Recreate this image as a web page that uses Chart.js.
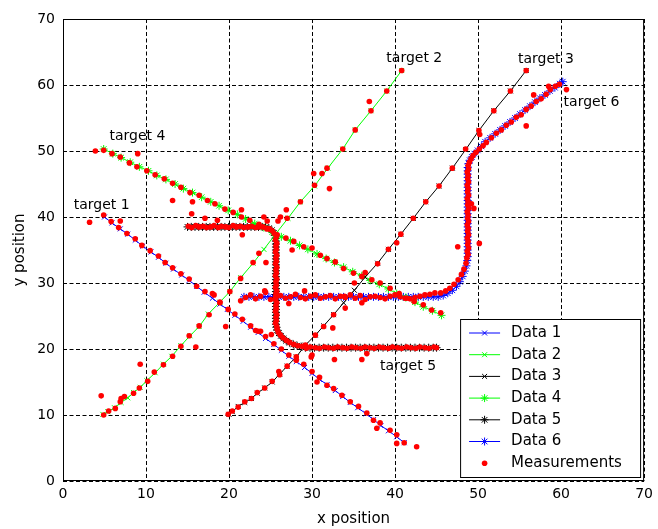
<!DOCTYPE html>
<html>
<head>
<meta charset="utf-8">
<title>Tracks</title>
<script src="https://cdn.jsdelivr.net/npm/chart.js@4.4.1/dist/chart.umd.min.js"></script>
<style>
html,body{margin:0;padding:0;background:#fff;}
#wrap{width:658px;height:529px;}
</style>
</head>
<body>
<div id="wrap"><canvas id="grafico" width="658" height="529"></canvas></div>
<script>
// tracks (true positions)
const track1 = [[5.0,40.0],[5.9,39.1],[6.9,38.2],[7.8,37.4],[8.7,36.5],[9.6,35.6],[10.6,34.7],[11.5,33.9],[12.4,33.0],[13.3,32.1],[14.3,31.2],[15.2,30.4],[16.1,29.5],[17.0,28.6],[18.0,27.7],[18.9,26.8],[19.8,26.0],[20.7,25.1],[21.7,24.2],[22.6,23.3],[23.5,22.5],[24.4,21.6],[25.4,20.7],[26.3,19.8],[27.2,18.9],[28.1,18.1],[29.1,17.2],[30.0,16.3],[30.9,15.4],[31.8,14.6],[32.8,13.7],[33.7,12.8],[34.6,11.9],[35.5,11.1],[36.5,10.2],[37.4,9.3],[38.3,8.4],[39.2,7.6],[40.2,6.7],[41.1,5.8]];
const track2 = [[4.8,10.1],[5.4,10.5],[6.2,11.1],[7.0,11.9],[7.8,12.6],[8.5,13.4],[9.3,14.2],[10.1,15.2],[11.1,16.4],[12.1,17.7],[13.1,18.9],[14.2,20.5],[15.3,22.0],[16.4,23.4],[17.5,25.3],[18.9,27.1],[20.1,28.7],[21.4,30.8],[22.9,33.0],[24.2,35.1],[25.6,37.4],[27.1,39.8],[28.6,42.3],[30.3,44.7],[31.9,47.4],[33.7,50.3],[35.2,53.2],[37.1,56.1],[39.0,59.1],[40.8,62.2]];
const track3 = [[20.0,10.1],[20.4,10.5],[21.1,11.3],[21.9,11.9],[22.7,12.5],[23.4,13.3],[24.3,14.1],[25.2,15.0],[26.1,16.2],[27.0,17.4],[28.1,18.8],[29.2,20.6],[30.4,22.1],[31.4,23.5],[32.6,25.2],[33.8,27.0],[35.1,28.9],[36.4,30.9],[37.9,33.0],[39.2,35.1],[40.7,37.4],[42.2,39.8],[43.7,42.3],[45.3,44.7],[46.9,47.4],[48.5,50.2],[50.1,53.1],[51.9,56.1],[53.9,59.1],[55.8,62.2]];
const track4 = [[4.9,50.3],[6.0,49.6],[7.0,49.0],[8.1,48.3],[9.2,47.6],[10.3,47.0],[11.3,46.3],[12.4,45.7],[13.5,45.0],[14.5,44.3],[15.6,43.7],[16.7,43.0],[17.8,42.3],[18.8,41.7],[19.9,41.0],[21.0,40.4],[22.0,39.7],[23.1,39.0],[24.2,38.4],[25.2,37.7],[26.3,37.0],[27.4,36.4],[28.5,35.7],[29.5,35.1],[30.6,34.4],[31.7,33.7],[32.7,33.1],[33.8,32.4],[34.9,31.7],[36.0,31.1],[37.0,30.4],[38.1,29.8],[39.2,29.1],[40.2,28.4],[41.3,27.8],[42.4,27.1],[43.4,26.4],[44.5,25.8],[45.6,25.1]];
const track5 = [[15.0,38.5],[15.45,38.5],[15.9,38.5],[16.35,38.5],[16.8,38.5],[17.25,38.5],[17.7,38.5],[18.15,38.5],[18.6,38.5],[19.05,38.5],[19.5,38.5],[19.95,38.5],[20.4,38.5],[20.85,38.5],[21.3,38.5],[21.75,38.5],[22.2,38.5],[22.65,38.5],[23.1,38.5],[23.55,38.5],[24.0,38.5],
  [24.4,38.45],[24.8,38.3],[25.15,38.0],[25.4,37.6],[25.55,37.2],[25.62,36.8],
  [25.65,36.35],[25.65,35.9],[25.65,35.45],[25.65,35.0],[25.65,34.55],[25.65,34.1],[25.65,33.65],[25.65,33.2],[25.65,32.75],[25.65,32.3],[25.65,31.85],[25.65,31.4],[25.65,30.95],[25.65,30.5],[25.65,30.05],[25.65,29.6],[25.65,29.15],[25.65,28.7],[25.65,28.25],[25.65,27.8],[25.65,27.35],[25.65,26.9],[25.65,26.45],[25.65,26.0],[25.65,25.55],[25.65,25.1],[25.65,24.65],[25.65,24.2],[25.65,23.75],
  [25.7,23.3],[25.8,22.85],[26.0,22.4],[26.25,22.0],[26.55,21.6],[26.9,21.25],[27.3,20.95],[27.75,20.7],[28.2,20.5],[28.7,20.35],
  [29.2,20.2],[29.75,20.2],[30.3,20.2],[30.85,20.2],[31.4,20.2],[31.95,20.2],[32.5,20.2],[33.05,20.2],[33.6,20.2],[34.15,20.2],[34.7,20.2],[35.25,20.2],[35.8,20.2],[36.35,20.2],[36.9,20.2],[37.45,20.2],[38.0,20.2],[38.55,20.2],[39.1,20.2],[39.65,20.2],[40.2,20.2],[40.75,20.2],[41.3,20.2],[41.85,20.2],[42.4,20.2],[42.95,20.2],[43.5,20.2],[44.05,20.2],[44.6,20.2],[45.0,20.2]];
const track6 = [[21.8,27.9],[22.4,27.9],[23.0,27.9],[23.6,27.9],[24.2,27.9],[24.8,27.9],[25.4,27.9],[26.0,27.9],[26.6,27.9],[27.2,27.9],[27.8,27.9],[28.4,27.9],[29.0,27.9],[29.6,27.9],[30.2,27.9],[30.8,27.9],[31.4,27.9],[32.0,27.9],[32.6,27.9],[33.2,27.9],[33.8,27.9],[34.4,27.9],[35.0,27.9],[35.6,27.9],[36.2,27.9],[36.8,27.9],[37.4,27.9],[38.0,27.9],[38.6,27.9],[39.2,27.9],[39.8,27.9],[40.4,27.9],[41.0,27.9],[41.6,27.9],[42.2,27.9],[42.8,27.9],[43.4,27.9],[44.0,27.9],[44.6,27.9],[45.2,27.9],
  [45.8,28.1],[46.35,28.45],[46.9,28.9],[47.4,29.5],[47.8,30.2],[48.15,31.0],[48.4,31.8],[48.6,32.6],[48.7,33.4],
  [48.75,34.0],[48.75,34.5],[48.75,35.0],[48.75,35.5],[48.75,36.0],[48.75,36.5],[48.75,37.0],[48.75,37.5],[48.75,38.0],[48.75,38.5],[48.75,39.0],[48.75,39.5],[48.75,40.0],[48.75,40.5],[48.75,41.0],[48.75,41.5],[48.75,42.0],[48.75,42.5],[48.75,43.0],[48.75,43.5],[48.75,44.0],[48.75,44.5],[48.75,45.0],[48.75,45.5],[48.75,46.0],[48.75,46.5],[48.75,47.0],[48.75,47.5],
  [48.85,48.1],[49.0,48.6],[49.25,49.1],[49.55,49.6],[49.95,50.1],[50.4,50.7],[50.85,51.4],
  [51.45,52.0],[52.05,52.6],[52.65,53.2],[53.25,53.8],[53.85,54.4],[54.45,55.0],[55.05,55.6],[55.65,56.2],[56.25,56.8],[56.85,57.4],[57.45,58.0],[58.05,58.5],[58.65,59.1],[59.25,59.6],[59.85,60.2],[60.2,60.5]];

// measurements (red dots)
const meas1 = [[4.9,40.3],[5.8,39.3],[6.7,38.4],[7.7,37.5],[8.7,36.7],[9.5,35.7],[10.5,34.9],[11.5,34.1],[12.3,33.1],[13.2,32.3],[14.2,31.4],[15.2,30.6],[16.1,29.5],[17.1,28.7],[18.0,28.4],[18.2,28.2],[18.9,27.1],[19.9,26.0],[20.7,25.3],[21.6,24.5],[22.6,23.5],[23.2,22.8],[23.5,22.7],[23.8,22.7],[24.4,21.9],[25.4,20.8],[26.3,20.0],[27.2,19.1],[28.1,18.3],[29.0,17.7],[30.0,16.6],[30.9,15.7],[31.8,14.5],[32.6,14.0],[33.6,13.0],[34.6,12.0],[35.6,11.3],[36.6,10.3],[37.4,9.2],[38.2,8.8],[39.4,7.7],[40.2,7.0],[41.1,5.8]];
const meas2 = [[4.9,10.0],[5.5,10.6],[6.3,11.0],[6.9,12.0],[7.0,12.5],[7.4,12.8],[8.5,13.3],[9.2,14.1],[10.2,15.1],[11.0,16.5],[12.1,17.6],[13.2,18.9],[14.2,20.4],[15.2,22.0],[16.4,23.5],[17.6,25.2],[18.9,27.0],[20.1,28.7],[21.4,30.7],[22.9,33.1],[23.6,34.5],[27.0,39.8],[28.6,42.3],[30.3,44.8],[31.8,47.4],[33.7,50.3],[35.2,53.2],[37.1,56.1],[39.0,59.1],[40.8,62.2]];
const meas3 = [[19.9,10.1],[20.4,10.6],[21.1,11.2],[21.9,12.0],[22.7,12.5],[23.4,13.4],[24.3,14.1],[25.2,15.1],[26.0,16.6],[26.1,16.1],[27.0,17.4],[28.1,18.8],[29.2,20.6],[30.4,22.1],[31.4,23.4],[32.6,25.2],[33.9,28.0],[35.1,30.0],[36.4,31.6],[37.9,32.9],[39.2,35.1],[40.2,36.1],[40.7,37.4],[42.2,39.8],[43.7,42.3],[45.3,44.7],[46.9,47.4],[48.5,50.3],[50.1,53.1],[50.2,52.5],[51.9,56.1],[53.9,59.1],[55.8,62.2]];
const meas4 = [[4.9,50.1],[5.9,49.6],[6.9,49.1],[8.0,48.2],[8.9,47.6],[10.1,47.0],[11.1,46.4],[12.2,45.8],[13.2,45.1],[14.2,44.5],[15.3,43.7],[16.4,43.3],[17.4,42.5],[18.3,42.0],[19.5,41.2],[20.5,40.7],[21.5,40.0],[22.5,39.5],[23.6,38.9],[24.6,38.2],[25.8,37.3],[26.85,36.8],[27.8,36.3],[29.0,35.5],[30.0,35.3],[31.0,34.2],[31.8,33.7],[32.8,33.2],[33.8,32.2],[35.0,31.5],[36.0,31.0],[37.2,30.5],[38.2,30.0],[39.4,29.2],[40.5,28.4],[41.4,27.7],[42.3,27.2],[43.4,26.7],[44.4,25.9],[45.5,25.5]];
const meas5 = [[15.1,38.6],[15.5,38.4],[16.0,38.7],[16.4,38.5],[16.9,38.6],[17.3,38.4],[17.8,38.5],[18.2,38.7],[18.7,38.4],[19.1,38.6],[19.6,38.5],[20.0,38.4],[20.5,38.7],[20.9,38.5],[21.4,38.6],[21.8,38.4],[22.3,38.5],[22.7,38.6],[23.2,38.4],[23.6,38.5],[24.1,38.5],[24.5,38.3],[24.9,38.2],[25.2,37.9],[25.45,37.5],
  [25.7,37.0],[25.6,36.5],[25.75,36.0],[25.65,35.6],[25.7,35.1],[25.6,34.7],[25.75,34.2],[25.65,33.8],[25.7,33.3],[25.6,32.9],[25.75,32.4],[25.65,32.0],[25.7,31.5],[25.6,31.1],[25.75,30.6],[25.65,30.2],[25.7,29.7],[25.6,29.3],[25.75,28.8],[25.65,28.4],[25.7,27.9],[25.6,27.5],[25.75,27.0],[25.65,26.6],[25.7,26.1],[25.6,25.7],[25.75,25.2],[25.65,24.8],[25.7,24.3],[25.6,23.9],[25.75,23.4],
  [25.8,23.0],[25.95,22.5],[26.2,22.1],[26.5,21.7],[26.9,21.3],[27.3,21.0],[27.8,20.7],[28.3,20.5],[28.8,20.4],[25.1,22.2],
  [29.3,20.1],[29.8,20.3],[30.4,20.2],[30.9,20.1],[31.5,20.3],[32.0,20.2],[32.6,20.1],[33.1,20.3],[33.7,20.2],[34.2,20.1],[34.8,20.3],[35.3,20.2],[35.9,20.1],[36.4,20.3],[37.0,20.2],[37.5,20.1],[38.1,20.3],[38.6,20.2],[39.2,20.1],[39.7,20.3],[40.3,20.2],[40.8,20.1],[41.4,20.3],[41.9,20.2],[42.5,20.1],[43.0,20.3],[43.6,20.2],[44.1,20.1],[44.7,20.3],[45.0,20.2]];
const meas6 = [[21.4,27.3],[22.0,27.8],[22.6,28.2],[23.2,27.6],[23.8,28.0],[24.4,28.6],[25.0,27.5],[25.6,27.9],[26.2,28.1],[26.8,27.7],[27.4,27.9],[28.0,28.3],[28.6,27.8],[29.2,27.6],[29.8,28.0],[30.4,28.2],[31.0,27.7],[31.6,27.9],[32.2,28.1],[32.8,27.6],[33.4,28.0],[34.0,27.8],[34.6,28.2],[35.2,27.7],[35.8,28.1],[36.4,27.5],[37.0,27.9],[37.6,28.0],[38.2,27.8],[38.8,27.6],[39.4,28.0],[40.0,28.2],[40.6,27.9],[41.2,27.7],[41.8,27.6],[42.4,27.8],[43.0,28.0],[43.6,28.2],[44.2,28.3],[44.8,28.5],
  [45.5,28.5],[46.1,28.8],[46.6,29.2],[47.1,29.8],[47.6,30.5],[48.0,31.3],[48.3,32.1],[48.55,33.0],[48.65,33.8],
  [48.8,34.3],[48.7,34.8],[48.85,35.3],[48.75,35.8],[48.8,36.3],[48.7,36.8],[48.85,37.3],[48.75,37.8],[48.8,38.3],[48.7,38.8],[48.85,39.3],[48.75,39.8],[48.8,40.3],[48.7,40.8],[48.85,41.3],[48.75,41.8],[48.8,42.3],[48.7,42.8],[48.85,43.3],[48.75,43.8],[48.8,44.3],[48.7,44.8],[48.85,45.3],[48.75,45.8],[48.8,46.3],[48.7,46.8],[48.85,47.3],[48.8,47.8],
  [48.95,48.3],[49.15,48.8],[49.4,49.3],[49.75,49.8],[50.15,50.3],[50.6,50.8],[51.0,51.3],
  [51.6,52.0],[52.2,52.7],[52.8,53.2],[53.4,53.9],[54.0,54.4],[54.6,55.1],[55.2,55.5],[55.8,56.3],[56.4,56.8],[57.0,57.5],[57.6,57.9],[58.2,58.6],[58.7,59.3],[59.3,59.8],[59.8,60.1],[58.5,59.8]];
const clutter = [[3.9,50.0],[9.0,49.6],[3.2,39.2],[6.9,39.4],[13.2,42.5],[15.6,42.3],[15.5,40.5],[17.1,39.8],[18.6,39.5],[21.5,41.1],[21.6,37.3],[24.2,40.0],[24.6,39.4],[25.9,39.4],[26.2,40.0],[26.9,41.1],[30.2,46.6],[31.2,46.6],[32.1,44.3],[36.9,57.5],[27.6,35.0],[24.45,33.1],[29.1,28.8],[24.3,28.8],[19.6,23.4],[16.0,20.3],[4.6,12.9],[9.3,17.7],[27.2,26.9],[32.5,23.2],[34.0,26.2],[36.0,27.0],[40.2,5.7],[42.6,5.2],[37.8,8.0],[30.6,15.0],[30.0,19.1],[29.9,18.8],[32.7,18.4],[36.0,18.4],[36.6,19.3],[47.55,35.5],[50.15,36.0],[49.2,42.0],[49.5,41.3],[55.8,53.8],[56.7,58.5],[60.65,59.3]];

// axis ticks and text labels
const xTicks = [0,10,20,30,40,50,60,70];
const yTicks = [0,10,20,30,40,50,60,70];
const targetNames = ['target 1','target 2','target 3','target 4','target 5','target 6'];
const targetX = [1.3, 38.95, 54.8, 5.6, 38.2, 60.3];
const targetY = [41.8, 64.0, 63.9, 52.2, 17.4, 57.3];
const legendNames = ['Data 1','Data 2','Data 3','Data 4','Data 5','Data 6','Measurements'];

const pts = a => a.map(p => ({x:p[0], y:p[1]}));
const FONTE = "'DejaVu Sans', sans-serif";
Chart.defaults.font.family = FONTE;
Chart.defaults.color = '#000';

function trilha(label, arr, cor, estilo, r) {
    return { label, data: pts(arr), showLine: true, borderColor: cor, borderWidth: 1, backgroundColor: cor,
        pointStyle: estilo, pointRadius: r, pointHoverRadius: r, pointBorderColor: cor, pointBorderWidth: 1, tension: 0 };
}

const estilos = [
    ['#0000ff','crossRot',true], ['#00ff00','crossRot',true], ['#000000','crossRot',true],
    ['#00ff00','star',true], ['#000000','star',true], ['#0000ff','star',true], ['#ff0000','circle',false]
];

const datasets = [
    trilha('Data 1', track1, '#0000ff', 'crossRot', 3.5),
    trilha('Data 2', track2, '#00ff00', 'crossRot', 3.5),
    trilha('Data 3', track3, '#000000', 'crossRot', 3.5),
    trilha('Data 4', track4, '#00ff00', 'star', 4),
    trilha('Data 5', track5, '#000000', 'star', 4),
    trilha('Data 6', track6, '#0000ff', 'star', 4),
    { label: 'Measurements', data: pts([].concat(meas1, meas2, meas3, meas4, meas5, meas6, clutter)), showLine: false,
      pointStyle: 'circle', pointRadius: 2.8, pointHoverRadius: 2.8, backgroundColor: '#ff0000', pointBorderWidth: 0, borderColor: '#ff0000', order: -1 }
];

function marca(ctx, estilo, x, y, r) {
    ctx.beginPath();
    if (estilo === 'circle') { ctx.arc(x, y, r, 0, Math.PI*2); ctx.fill(); return; }
    const d = r*Math.SQRT1_2;
    ctx.moveTo(x-d, y-d); ctx.lineTo(x+d, y+d); ctx.moveTo(x-d, y+d); ctx.lineTo(x+d, y-d);
    if (estilo === 'star') { ctx.moveTo(x-r, y); ctx.lineTo(x+r, y); ctx.moveTo(x, y-r); ctx.lineTo(x, y+r); }
    ctx.stroke();
}

const extras = {
    id: 'extras',
    afterDraw(chart) {
        const {ctx, chartArea: a, scales: {x, y}} = chart;
        ctx.save();
        // axes box
        ctx.strokeStyle = '#000'; ctx.lineWidth = 1;
        ctx.strokeRect(a.left + 0.5, a.top + 0.5, a.right - a.left - 1, a.bottom - a.top - 1);
        // target labels
        ctx.fillStyle = '#000'; ctx.font = "14px " + FONTE; ctx.textAlign = 'left'; ctx.textBaseline = 'middle';
        targetNames.forEach((t, i) => ctx.fillText(t, x.getPixelForValue(targetX[i]), y.getPixelForValue(targetY[i])));
        // legend box
        const bw = 180, bh = 158, bx = a.right - 184, by = a.bottom - 162;
        ctx.fillStyle = '#fff'; ctx.fillRect(bx, by, bw, bh);
        ctx.strokeStyle = '#000'; ctx.strokeRect(bx + 0.5, by + 0.5, bw, bh);
        ctx.font = "15px " + FONTE;
        legendNames.forEach((n, i) => {
            const [cor, est, linha] = estilos[i];
            const ly = by + 14 + i*21.7;
            ctx.strokeStyle = cor; ctx.fillStyle = cor; ctx.lineWidth = 1;
            if (linha) { ctx.beginPath(); ctx.moveTo(bx + 9, ly); ctx.lineTo(bx + 40, ly); ctx.stroke(); }
            marca(ctx, est, bx + 24.5, ly, est === 'circle' ? 2.8 : (est === 'star' ? 4 : 3.5));
            ctx.fillStyle = '#000';
            ctx.fillText(n, bx + 51, ly);
        });
        ctx.restore();
    }
};

new Chart(document.getElementById('grafico'), {
    type: 'scatter',
    data: { datasets },
    options: {
        responsive: false, animation: false,
        layout: { padding: { left: 0, right: 11, top: 19, bottom: 0 } },
        plugins: { legend: { display: false }, tooltip: { enabled: false } },
        scales: {
            x: { type: 'linear', min: 0, max: 70,
                afterFit: s => { s.height = 48; },
                afterBuildTicks: s => { s.ticks = xTicks.map(v => ({value: v})); },
                ticks: { padding: 5, font: { size: 14 }, color: '#000', maxRotation: 0 },
                grid: { color: '#000', lineWidth: 1, drawTicks: false },
                border: { display: false, dash: [4, 2.5] },
                title: { display: true, text: 'x position', font: { size: 15 }, color: '#000', padding: { top: 0, bottom: 1 } } },
            y: { type: 'linear', min: 0, max: 70,
                afterFit: s => { s.width = 63; },
                afterBuildTicks: s => { s.ticks = yTicks.map(v => ({value: v})); },
                ticks: { padding: 8, font: { size: 14 }, color: '#000' },
                grid: { color: '#000', lineWidth: 1, drawTicks: false },
                border: { display: false, dash: [4, 2.5] },
                title: { display: true, text: 'y position', font: { size: 15 }, color: '#000', padding: { top: 11, bottom: 0 } } }
        }
    },
    plugins: [extras]
});
</script>
</body>
</html>
